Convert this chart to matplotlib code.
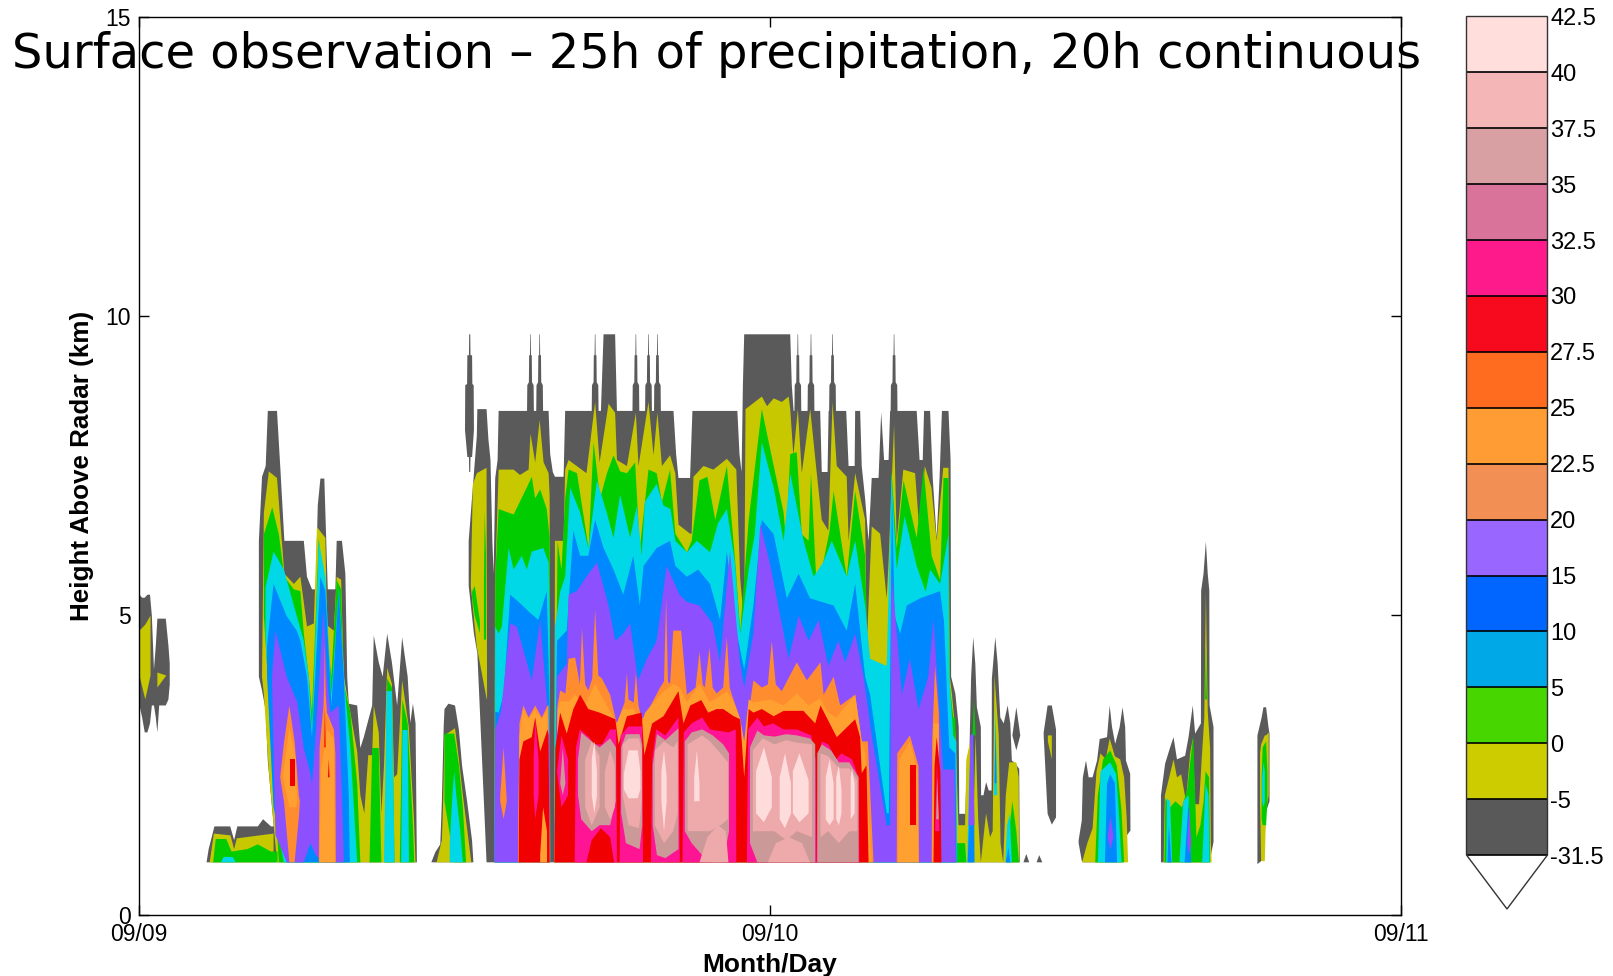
import matplotlib
matplotlib.use("Agg")
import matplotlib.pyplot as plt
from matplotlib.colors import BoundaryNorm, ListedColormap
from matplotlib.cm import ScalarMappable
import numpy as np

plt.rcParams['font.family'] = ['Liberation Sans', 'DejaVu Sans']

# radar echo outlines: (hours since 09/09 00:00, height km)
echo_base = 0.88

# --- gray: lowest reflectivity, the outer envelope
gray_a = [(0,5.35),(.1,5.3),(.2,5.3),(.3,5.35),(.4,5.35),(.47,5.0),(.55,4.1),(.62,4.5),(.68,4.95),(.75,4.95),(1.0,4.95),(1.1,4.5),(1.15,4.2)]
gray_a_under = [(0,3.5),(.1,3.3),(.2,3.05),(.3,3.05),(.4,3.2),(.47,3.5),(.55,3.5),(.62,3.3),(.68,3.05),(.75,3.5),(1.0,3.5),(1.1,3.6),(1.15,3.85)]
gray_low = [(2.55,.88),(2.63,1.1),(2.85,1.48),(3.45,1.48),(3.6,1.25),(3.72,1.48),(4.5,1.48),(4.7,1.6),(5.0,1.48),(5.2,1.48)]
gray_tower = [(4.54,6.25),(4.66,7.32),(4.8,7.5),(4.88,8.42),(5.23,8.42),(5.36,7.44),(5.51,6.25),(6.25,6.25),(6.37,5.65),(6.56,5.44),(6.7,5.44),(6.78,6.84),(6.88,7.29),(7.03,7.29),(7.16,5.44),(7.45,5.44),(7.5,6.25),(7.7,6.25),(7.83,5.7),(7.9,3.98),(7.96,3.53),(8.28,3.5),(8.4,2.79),(8.53,2.97),(8.85,3.5),(8.91,4.67),(9.1,4.22),(9.25,3.98),(9.42,4.7),(9.6,4.22),(9.8,3.5),(9.99,4.64),(10.2,3.98),(10.3,3.21),(10.4,3.53),(10.5,3.2),(10.55,.88)]
gray_tower_under = [(4.54,3.98),(4.79,3.5),(4.85,3.0),(4.92,2.0),(5.13,1.48),(5.2,.88),(10.6,.88)]
gray_c = [(11.1,.88),(11.25,1.05),(11.44,1.18),(11.5,1.9),(11.57,3.15),(11.6,3.44),(11.75,3.53),(12.0,3.5),(12.15,3.09),(12.27,2.49),(12.46,1.9),(12.65,1.24),(12.7,.88)]
gray_spike = [(12.38,8.1),(12.39,8.85),(12.46,8.87),(12.47,9.35),(12.53,9.35),(12.54,9.7),(12.58,9.7),(12.59,9.35),(12.65,9.35),(12.66,8.87),(12.71,8.85),(12.72,8.1)]
gray_spike_under = [(12.38,8.1),(12.47,7.65),(12.53,7.65),(12.54,7.4),(12.58,7.4),(12.59,7.65),(12.65,7.65),(12.72,8.1)]
gray_main = [(12.52,6.25),(12.72,7.38),(12.83,8.0),(12.85,8.45),(13.2,8.45),(13.27,7.95),(13.35,7.6),(13.42,6.25),(13.47,5.7),(13.53,7.3),(13.62,7.6),(13.66,8.42),
             (15.56,8.42),(15.62,7.7),(15.72,7.4),(15.8,7.32),(16.13,7.32),(16.19,8.42),
             (17.55,8.42),(17.65,9.7),(18.09,9.7),(18.16,8.42),
             (20.31,8.42),(20.41,7.7),(20.5,7.3),(20.94,7.3),(21.03,8.42),(22.74,8.42),(22.82,7.7),(22.9,7.4),(22.95,8.85),(23.0,9.7),(24.75,9.7),(24.81,8.85),(24.88,8.42),
             (25.89,8.42),(25.95,7.4),(26.17,7.4),(26.21,8.42),(26.88,8.42),(26.97,7.5),(27.2,7.5),(27.22,8.42),(27.41,8.42),(27.47,7.5),(27.6,6.95),(27.73,6.25),(27.85,7.3),
             (28.11,7.3),(28.21,8.4),(28.32,7.6),(28.49,7.6),(28.55,8.42),(29.56,8.42),(29.67,7.6),(29.79,7.6),(29.84,8.42),(30.07,8.42),(30.17,7.3),(30.32,6.3),(30.43,7.3),(30.52,8.42),(30.77,8.42),(30.85,7.6),
             (30.87,3.98),(31.03,3.7),(31.16,3.14),(31.18,1.69),(31.41,1.69),(31.47,2.58),(31.57,2.8),(31.63,3.97),(31.71,4.64),(31.79,4.2),(31.85,3.47),(32.0,3.14),(32.01,2.0),(32.1,2.0),(32.2,2.22),(32.3,2.08),(32.41,2.08),(32.42,3.95),(32.55,4.64),(32.64,4.2),(32.74,3.3),(32.87,3.2),(33.02,3.5),(33.12,3.2),(33.18,2.58),(33.31,2.53),(33.46,2.44),(33.48,.88)]
gray_main_under = [(12.52,5.5),(12.58,5.05),(12.72,4.7),(12.9,4.25),(13.03,3.74),(13.1,3.6),(13.12,.88),(33.5,.88)]
# the narrow 9.7 km needles above the flat 8.4 km echo top
spire_centres = [14.87, 15.22, 17.33, 18.88, 19.36, 19.7, 25.04, 25.54, 26.36, 28.7]
spire_offsets = [-.13, -.12, -.06, -.05, -.02, -.01, .01, .02, .05, .06, .12, .13]
spire_tops = [8.42, 8.85, 8.9, 9.35, 9.35, 9.7, 9.7, 9.35, 9.35, 8.9, 8.85, 8.42]
gray_blob = [(33.2,3.0),(33.35,3.47),(33.5,3.0)]
gray_blob_under = [(33.2,3.0),(33.35,2.75),(33.5,3.0)]
gray_dot1 = [(33.62,.88),(33.73,1.02),(33.84,.88)]
gray_dot2 = [(34.12,.88),(34.22,1.0),(34.34,.88)]
gray_d = [(34.39,3.05),(34.54,3.5),(34.7,3.5),(34.86,3.1)]
gray_d_under = [(34.39,3.0),(34.54,1.69),(34.7,1.51),(34.86,1.63)]
gray_e = [(35.72,1.25),(35.84,1.58),(35.88,2.3),(36.0,2.58),(36.1,2.3),(36.25,2.3),(36.42,2.58),(36.52,2.94),(36.8,2.97),(36.9,3.5),(36.99,3.14),(37.11,2.86),(37.28,3.14),(37.39,3.47),(37.49,3.14),(37.52,2.58),(37.68,2.36),(37.69,1.41)]
gray_e_under = [(35.72,1.2),(35.85,.88),(37.48,.88),(37.5,1.3),(37.69,1.41)]
gray_f = [(38.85,2.0),(39.01,2.53),(39.2,2.8),(39.33,2.97),(39.46,2.6),(39.77,2.66),(39.9,2.97),(40.06,3.5),(40.15,3.03),(40.37,3.2),(40.38,5.42),(40.47,5.7),(40.56,6.24),(40.63,5.7),(40.69,5.42),(40.7,3.5),(40.85,3.14)]
gray_f_under = [(38.85,.88),(40.7,.88),(40.75,1.05),(40.85,1.22)]
gray_g = [(42.52,3.0),(42.68,3.3),(42.75,3.47),(42.85,3.47),(42.94,3.14),(42.98,3.03)]
gray_g_under = [(42.52,.85),(42.8,.95),(42.84,1.72),(42.98,1.9)]

# --- olive
olive_a = [(0,4.75),(.22,4.85),(.42,5.0)]
olive_a_under = [(0,4.0),(.22,3.6),(.42,4.0)]
olive_a2 = [(.68,4.05),(1.02,4.0)]
olive_a2_under = [(.68,3.8),(1.02,4.0)]
olive_low = [(2.67,.88),(2.83,1.36),(3.46,1.33),(3.6,1.1),(3.7,1.28),(5.1,1.36)]
olive_tower = [(4.66,3.98),(4.73,6.72),(4.92,7.41),(5.23,7.3),(5.51,5.7),(5.87,5.53),(6.12,5.65),(6.37,4.82),(6.63,4.87),(6.75,6.48),(7.07,6.3),(7.13,4.84),(7.39,4.75),(7.5,5.65),(7.67,5.6),(7.77,3.98),(8.02,3.38),(8.28,2.73),(8.4,2.0),(8.55,1.7),(8.7,2.67),(8.85,2.67),(8.91,3.5),(9.1,3.05),(9.2,1.7),(9.3,2.5),(9.42,4.13),(9.6,3.86),(9.68,2.3),(9.8,2.35),(9.99,3.92),(10.24,3.15),(10.44,1.6),(10.5,.88)]
olive_tower_under = [(4.66,3.98),(4.8,3.4),(4.92,2.4),(5.1,1.5),(5.15,.88),(10.6,.88)]
olive_c = [(11.3,.88),(11.5,1.25),(11.55,1.9),(11.6,3.0),(12.0,3.12),(12.15,2.6),(12.3,2.0),(12.5,1.3),(12.62,.88)]
olive_left = [(12.6,5.5),(12.68,7.2),(12.83,7.38),(13.2,7.47),(13.22,3.6)]
olive_left_under = [(12.6,5.5),(12.75,4.8),(12.95,4.0),(13.1,3.7),(13.22,3.6)]
olive_main = [(13.5,.88),(13.52,5.5),(13.66,7.44),(14.23,7.44),(14.47,7.35),(14.8,7.44),(14.87,8.04),(15.05,7.56),(15.22,8.27),(15.37,7.56),(15.56,7.38),(15.6,7.0),(15.62,.88),(15.78,.88),(15.8,6.25),(16.13,6.25),(16.19,7.44),(16.32,7.6),(17.0,7.38),(17.33,8.57),(17.5,7.56),(17.84,8.54),(18.09,8.39),(18.16,7.6),(18.54,7.5),(18.88,8.39),(18.98,7.5),(19.36,8.57),(19.55,7.68),(19.7,8.39),(19.87,7.5),(20.18,7.68),(20.38,7.38),(20.5,6.52),(20.94,6.37),(21.0,6.37),(21.07,7.32),(21.45,7.5),(21.83,7.44),(22.34,7.62),(22.7,7.44),(22.85,5.6),(23.0,4.9),(23.05,8.45),(23.67,8.66),(23.87,8.5),(24.12,8.63),(24.43,8.57),(24.69,8.66),(24.75,8.45),(24.87,7.68),(25.04,8.45),(25.19,7.38),(25.51,8.45),(25.76,7.38),(25.95,6.6),(26.2,6.42),(26.36,8.57),(26.52,7.5),(26.9,7.32),(26.97,6.25),(27.22,7.38),(27.6,6.6),(27.66,4.46),(27.85,6.49),(28.17,6.37),(28.42,5.29),(28.49,5.89),(28.7,8.2),(28.8,6.25),(29.05,7.44),(29.5,7.38),(29.67,6.37),(29.87,7.5),(30.12,7.14),(30.32,6.25),(30.57,7.47),(30.77,7.47),(30.82,3.98),(30.9,3.7),(31.03,3.05),(31.15,1.5),(31.4,1.5),(31.45,2.6),(31.57,2.85),(31.65,2.85),(31.72,1.5),(31.8,3.0),(31.9,1.6),(32.0,.88),(32.1,1.3),(32.2,1.7),(32.35,1.3),(32.45,1.4),(32.52,4.0),(32.6,3.5),(32.68,3.0),(32.75,1.2),(32.85,.88),(32.95,2.0),(33.08,2.55),(33.35,2.55),(33.44,2.3),(33.46,.88)]
olive_d = [(34.55,3.0),(34.7,3.0)]
olive_d_under = [(34.55,2.9),(34.7,2.6)]
olive_e = [(35.85,.88),(36.05,1.2),(36.25,1.45),(36.4,2.4),(36.55,2.7),(36.75,2.6),(36.9,2.95),(37.1,2.65),(37.3,2.6),(37.45,2.3),(37.55,1.6),(37.6,.88)]
olive_f = [(38.95,.88),(39.0,2.0),(39.33,2.6),(39.46,2.3),(39.62,2.35),(39.8,1.9),(39.96,2.7),(40.06,2.95),(40.15,1.85),(40.3,1.85),(40.4,2.6),(40.5,3.3),(40.56,5.4),(40.63,3.4),(40.72,2.8),(40.75,1.2),(40.78,.88)]
olive_g = [(42.62,2.7),(42.66,2.85),(42.8,3.0),(42.85,3.0),(42.95,3.05)]
olive_g_under = [(42.62,1.9),(42.66,.9),(42.8,.9),(42.85,1.75),(42.95,2.0)]

# --- green
green_low = [(2.8,.88),(2.9,1.27),(3.3,1.27),(3.5,1.06),(4.1,1.1),(4.5,1.18),(5.0,1.06),(5.25,1.06)]
green_tower = [(4.73,6.36),(5.05,6.81),(5.3,6.36),(5.51,5.65),(5.87,5.44),(6.12,5.41),(6.25,4.7),(6.44,3.98),(6.56,3.38),(6.82,6.3),(7.07,4.87),(7.3,3.98),(7.5,5.6),(7.67,5.44),(7.77,3.86),(8.02,3.38),(8.28,2.2),(8.4,.88),(8.75,.88),(8.85,2.79),(9.1,2.79),(9.2,.88),(9.35,.88),(9.42,3.95),(9.6,3.8),(9.7,.88),(9.9,.88),(10.0,3.6),(10.2,3.2),(10.4,1.5),(10.45,.88)]
green_tower_under = [(4.73,5.0),(4.85,4.3),(5.0,3.5),(5.1,2.0),(5.2,.88),(10.5,.88)]
green_c = [(11.6,3.03),(11.97,3.03),(12.15,2.5),(12.3,1.8),(12.42,.88)]
green_c_under = [(11.6,1.9),(11.85,.88),(12.42,.88)]
green_left = [(12.65,5.4),(12.75,5.5),(12.95,4.9)]
green_left_under = [(12.65,5.3),(12.75,5.0),(12.95,4.7)]
green_left2 = [(13.1,5.5),(13.13,6.75),(13.18,6.0)]
green_left2_under = [(13.1,4.6),(13.18,4.6)]
green_main = [(13.5,.88),(13.53,5.65),(13.66,6.78),(14.23,6.69),(14.73,7.14),(14.92,7.32),(15.05,6.96),(15.24,7.11),(15.49,6.78),(15.6,6.3),(15.62,.88),(15.78,.88),(15.9,6.25),(16.05,5.77),(16.19,6.96),(16.32,7.44),(16.64,7.38),(17.08,6.13),(17.27,7.9),(17.52,6.96),(17.78,7.38),(18.03,7.68),(18.28,7.41),(18.54,7.38),(18.85,7.56),(19.03,6.13),(19.36,7.44),(19.67,7.38),(19.87,6.9),(20.18,7.44),(20.38,6.37),(20.55,6.25),(20.82,6.06),(21.0,6.25),(21.3,7.26),(21.6,7.32),(21.9,6.6),(22.34,7.5),(22.65,5.95),(22.85,4.75),(23.17,6.6),(23.67,8.45),(24.18,7.38),(24.5,6.72),(24.59,6.25),(24.75,7.7),(25.0,7.73),(25.19,6.36),(25.45,6.25),(25.54,7.38),(25.74,5.6),(25.95,5.77),(26.25,6.42),(26.4,7.08),(26.9,5.65),(27.22,7.08),(27.6,6.0),(27.69,4.28),(27.85,4.15),(28.42,4.15),(28.51,4.5),(28.6,7.44),(28.8,6.12),(29.06,7.26),(29.56,6.3),(29.82,7.47),(30.13,6.0),(30.45,5.6),(30.58,7.3),(30.77,7.3),(30.81,3.9),(30.95,3.3),(31.03,3.3),(31.07,1.2),(31.4,1.2),(31.45,.88)]
green_e = [(36.35,.88),(36.45,2.0),(36.65,2.6),(36.92,2.75),(37.17,2.5),(37.35,1.75),(37.45,.88)]
green_f = [(38.98,.88),(39.02,1.95),(39.2,1.8),(39.4,1.9),(39.65,1.8),(39.85,2.1),(40.0,2.7),(40.08,3.0),(40.2,1.3),(40.35,1.5),(40.47,1.9),(40.55,2.4),(40.68,2.3),(40.72,.88)]
green_spire = [(40.53,3.6),(40.56,4.5),(40.6,3.6)]
green_g = [(42.68,2.3),(42.72,2.8),(42.85,2.9),(42.9,2.4)]
green_g_under = [(42.68,1.6),(42.72,1.5),(42.85,1.5),(42.9,1.9)]
green_tail1 = [(31.68,3.0),(31.74,3.6),(31.8,3.0)]
green_tail2 = [(33.0,.88),(33.1,1.5),(33.2,1.9),(33.35,1.4),(33.45,.88)]

# --- cyan
cyan_low = [(3.1,.88),(3.2,.97),(3.55,.97),(3.65,.88)]
cyan_tower = [(4.79,5.47),(5.1,6.07),(5.49,5.77),(5.87,5.17),(6.25,4.58),(6.44,3.98),(6.56,3.09),(6.82,6.25),(7.07,5.65),(7.3,3.68),(7.58,5.47),(7.7,4.58),(7.83,3.68),(8.02,2.79),(8.28,.88)]
cyan_tower_under = [(4.79,4.7),(4.9,3.8),(5.0,3.0),(5.1,1.8),(5.2,.88),(8.3,.88)]
cyan_t2 = [(9.3,.88),(9.4,3.74),(9.6,3.74),(9.7,.88)]
cyan_t3 = [(9.95,.88),(10.0,3.09),(10.2,3.09),(10.25,.88)]
cyan_c = [(11.8,1.2),(11.9,2.0),(11.97,2.4),(12.05,2.0),(12.2,1.4),(12.3,.88)]
cyan_main = [(13.5,.88),(13.53,4.82),(13.66,4.7),(13.78,4.82),(14.04,6.13),(14.23,5.77),(14.54,6.0),(14.73,5.77),(14.92,6.07),(15.36,6.13),(15.56,5.89),(15.6,5.0),(15.62,.88),(15.78,.88),(15.8,4.8),(16.0,5.4),(16.19,5.65),(16.38,7.14),(16.76,6.72),(17.07,6.13),(17.4,7.26),(17.77,6.72),(18.03,6.3),(18.28,7.02),(18.66,6.3),(18.92,6.84),(19.1,6.0),(19.22,6.9),(19.67,7.2),(19.93,6.84),(20.2,6.78),(20.38,6.25),(20.82,6.06),(21.2,6.25),(21.7,6.06),(22.0,6.54),(22.34,6.78),(22.65,5.89),(22.85,4.7),(23.17,5.77),(23.4,6.36),(23.67,7.9),(24.12,7.14),(24.5,6.25),(24.75,7.38),(25.26,6.25),(25.64,5.65),(26.0,5.89),(26.33,6.25),(26.9,5.65),(27.22,6.25),(27.6,5.17),(27.79,4.28),(28.42,4.16),(28.6,7.38),(28.8,5.77),(29.1,6.66),(29.56,5.83),(29.9,5.4),(30.07,5.77),(30.45,5.53),(30.77,6.36),(30.8,4.0),(30.95,3.0),(31.07,2.9),(31.1,.88)]
cyan_e = [(36.45,.88),(36.55,2.4),(36.92,2.55),(37.15,2.35),(37.25,1.7),(37.35,.88)]
cyan_f1 = [(39.05,.88),(39.08,1.95),(39.2,1.9),(39.28,.88)]
cyan_f2 = [(39.55,.88),(39.7,1.9),(39.9,2.0),(40.0,.88)]
cyan_f3 = [(40.42,.88),(40.55,2.2),(40.66,2.0),(40.7,.88)]
cyan_g = [(42.7,2.3),(42.75,2.55),(42.8,2.4)]
cyan_g_under = [(42.7,1.9),(42.75,1.8),(42.8,1.9)]
cyan_tail1 = [(31.48,.88),(31.55,2.2),(31.65,3.03),(31.72,.88)]
cyan_tail2 = [(32.5,2.0),(32.56,3.5),(32.62,2.0)]
cyan_tail3 = [(32.93,.88),(33.0,1.5),(33.1,1.69),(33.18,.88)]

# --- blue
blue_tower = [(4.85,4.5),(5.1,5.53),(5.6,4.99),(5.98,4.75),(6.12,4.58),(6.37,3.98),(6.56,2.97),(6.88,5.65),(7.07,5.41),(7.3,3.5),(7.58,5.41),(7.77,3.98),(7.96,2.0),(8.0,.88)]
blue_tower_under = [(4.85,4.0),(5.0,3.0),(5.1,1.8),(5.2,.88),(8.0,.88)]
blue_main = [(13.5,.88),(13.53,3.4),(13.66,3.38),(13.85,3.68),(14.1,5.35),(14.42,5.23),(14.85,5.05),(15.17,4.93),(15.49,5.41),(15.6,3.5),(15.62,.88),(15.78,.88),(15.88,4.58),(16.25,4.75),(16.5,6.42),(16.76,6.0),(17.07,6.0),(17.33,6.6),(17.65,6.13),(18.03,5.77),(18.4,5.35),(18.78,6.0),(19.03,5.17),(19.17,5.83),(19.67,6.13),(20.18,6.25),(20.38,5.83),(20.82,5.65),(21.25,5.77),(21.7,5.53),(22.08,4.93),(22.34,6.07),(22.7,4.75),(23.0,4.1),(23.35,5.17),(23.67,6.6),(24.12,6.36),(24.62,5.29),(25.07,5.7),(25.5,5.29),(25.95,5.23),(26.4,5.17),(26.9,4.75),(27.22,5.53),(27.6,3.98),(27.79,3.68),(28.42,1.7),(28.5,1.7),(28.62,7.08),(28.72,5.0),(28.93,4.7),(29.18,5.17),(29.69,5.29),(30.45,5.41),(30.6,4.9),(30.77,3.1),(30.8,2.8),(31.03,2.7),(31.08,.88)]
blue_e = [(36.72,.88),(36.8,2.2),(36.92,2.35),(37.1,2.2),(37.18,.88)]
blue_f1 = [(39.1,.88),(39.15,1.5),(39.25,.88)]
blue_f2 = [(39.75,.88),(39.9,1.9),(40.0,.88)]
blue_tail1 = [(31.5,.88),(31.55,1.5),(31.68,1.5),(31.72,3.2),(31.76,.88)]
blue_tail2 = [(32.52,2.2),(32.56,3.2),(32.6,2.2)]
blue_tail3 = [(32.95,.88),(33.05,1.13),(33.12,.88)]

# --- purple
purple_tower = [(5.04,3.98),(5.17,4.75),(5.6,3.98),(6.0,3.56),(6.25,2.79),(6.5,2.37),(6.56,2.19),(6.7,3.0),(7.0,5.1),(7.13,3.98),(7.26,3.38),(7.58,3.5),(7.71,1.9),(7.77,.88)]
purple_tower_under = [(5.04,3.9),(5.1,2.4),(5.2,.88),(6.3,.88),(6.5,1.2),(6.7,1.0),(6.8,.88),(7.8,.88)]
purple_main = [(13.5,.88),(13.53,3.1),(13.75,3.4),(14.1,4.87),(14.35,4.82),(14.92,3.92),(15.24,4.93),(15.52,3.44),(15.6,3.0),(15.62,.88),(15.78,.88),(15.88,3.98),(16.25,4.2),(16.32,5.35),(16.63,5.41),(17.0,5.65),(17.4,5.89),(17.84,5.17),(18.1,4.58),(18.4,4.7),(18.66,4.87),(18.96,3.92),(19.3,4.28),(19.67,4.58),(20.05,5.83),(20.54,5.35),(20.82,5.23),(21.3,5.17),(21.8,4.87),(22.08,4.22),(22.46,6.07),(22.84,4.22),(23.0,3.8),(23.35,4.7),(23.61,6.54),(24.0,5.83),(24.69,4.28),(25.07,5.0),(25.45,4.58),(25.83,4.93),(26.2,4.16),(26.58,4.58),(26.84,4.22),(27.22,4.7),(27.54,3.98),(27.85,3.0),(28.42,1.5),(28.55,1.5),(28.6,5.77),(29.0,3.68),(29.3,4.28),(29.63,3.44),(30.0,3.98),(30.2,4.95),(30.57,2.43),(31.0,2.43),(31.05,.88)]
purple_e = [(36.82,1.3),(36.93,1.66),(37.05,1.3)]
purple_e_under = [(36.82,1.3),(36.93,1.1),(37.05,1.3)]
purple_f = [(39.85,1.2),(39.92,1.8),(40.0,1.2)]
purple_f_under = [(39.85,1.2),(39.92,1.0),(40.0,1.2)]
purple_tail = [(31.53,1.5),(31.6,3.0),(31.7,3.03),(31.76,1.5)]

# --- orange, salmon tone
orange_t1 = [(5.35,2.3),(5.5,2.9),(5.7,3.5),(5.9,2.9),(6.06,2.0),(6.1,1.9)]
orange_t1_under = [(5.35,2.3),(5.6,1.6),(5.65,.88),(5.95,.88),(6.1,1.9)]
orange_t2 = [(6.82,.88),(6.85,2.8),(7.0,3.5),(7.03,4.0),(7.05,4.55),(7.08,3.7),(7.13,3.38),(7.39,3.1),(7.45,2.7),(7.47,.88)]
orange_a = [(13.72,2.0),(13.85,2.8),(13.97,1.9)]
orange_a_under = [(13.72,1.9),(13.85,1.6),(13.97,1.9)]
orange_main = [(14.4,.88),(14.45,3.2),(14.6,3.5),(14.8,3.3),(15.05,3.5),(15.3,3.3),(15.52,3.5),(15.56,3.5),(15.6,.88),(15.78,.88),(15.9,3.5),(16.0,3.75),(16.2,3.7),(16.32,4.28),(16.57,4.3),(16.75,3.85),(16.83,4.8),(16.95,3.85),(17.07,3.75),(17.22,3.95),(17.33,5.1),(17.45,4.0),(17.59,3.95),(17.9,3.68),(18.15,3.2),(18.45,3.55),(18.54,4.04),(18.6,3.6),(18.8,3.55),(18.88,4.04),(18.98,3.5),(19.1,3.27),(19.3,3.38),(19.8,3.8),(19.95,3.9),(20.03,5.3),(20.1,3.9),(20.18,3.86),(20.3,4.75),(20.6,4.75),(20.82,3.68),(21.15,3.8),(21.3,4.4),(21.42,3.85),(21.5,3.8),(21.68,4.46),(21.8,3.8),(21.95,3.7),(22.2,3.8),(22.34,4.64),(22.45,3.8),(22.53,3.68),(22.85,3.27),(23.0,2.35),(23.17,3.38),(23.35,3.92),(23.67,3.8),(23.9,3.85),(24.05,4.58),(24.2,3.85),(24.43,3.74),(25.0,4.22),(25.38,3.92),(25.9,4.22),(26.02,3.68),(26.4,3.98),(26.65,3.5),(27.22,3.68),(27.47,2.9),(27.7,2.9),(27.92,.88)]
orange_h = [(28.8,.88),(28.82,2.7),(29.3,3.0),(29.63,2.49),(29.65,.88)]
orange_i = [(30.13,.88),(30.15,2.9),(30.26,4.16),(30.4,3.38),(30.45,.88)]

# --- orange, bright tone
amber_t1 = [(5.45,2.3),(5.7,3.15),(5.95,2.6),(6.0,1.9)]
amber_t1_under = [(5.45,2.3),(5.65,1.8),(5.95,1.8),(6.0,1.9)]
amber_t2 = [(6.85,.88),(6.9,2.4),(7.13,3.1),(7.39,2.95),(7.43,.88)]
amber_main = [(14.4,.88),(14.45,3.0),(14.6,3.44),(14.8,3.27),(15.05,3.44),(15.3,3.27),(15.52,3.44),(15.6,.88),(15.78,.88),(15.9,3.44),(16.0,3.57),(16.32,3.56),(16.57,3.68),(16.93,3.5),(17.33,3.86),(17.65,3.6),(18.15,3.2),(18.4,3.44),(18.78,3.44),(19.1,3.2),(19.23,3.38),(19.8,3.68),(20.3,3.86),(20.55,3.8),(20.82,3.56),(21.3,3.86),(21.68,3.56),(21.95,3.62),(22.34,3.74),(22.6,3.56),(22.85,3.27),(23.0,2.9),(23.17,3.6),(23.35,3.55),(24.0,3.6),(24.5,3.5),(25.0,3.7),(25.45,3.5),(25.9,3.62),(26.15,3.4),(26.5,3.3),(27.22,3.68),(27.47,2.9),(27.6,2.7),(27.85,.88)]
amber_h = [(28.85,.88),(28.9,2.6),(29.3,2.9),(29.6,2.4),(29.62,.88)]
amber_i = [(30.15,.88),(30.2,3.2),(30.4,3.2),(30.43,.88)]

# --- red
red_t1 = [(5.75,2.6),(5.95,2.6)]
red_t1_under = [(5.75,2.15),(5.95,2.15)]
red_t2 = [(7.03,2.8),(7.05,3.5),(7.08,2.8)]
red_t3 = [(7.17,2.3),(7.2,2.6),(7.23,2.3)]
red_main = [(14.42,.88),(14.45,2.6),(14.6,2.9),(14.92,2.97),(15.05,3.3),(15.24,2.73),(15.52,3.1),(15.56,3.0),(15.6,.88),(15.78,.88),(15.82,2.79),(16.0,3.38),(16.25,3.03),(16.5,3.44),(16.76,3.68),(17.07,3.44),(17.5,3.38),(18.1,3.27),(18.22,2.85),(18.54,3.32),(19.1,3.38),(19.2,2.67),(19.5,3.2),(19.93,3.32),(20.5,3.74),(20.69,3.2),(20.95,3.5),(21.37,3.59),(21.63,3.38),(21.95,3.44),(22.2,3.44),(22.6,3.32),(22.85,3.27),(23.0,2.3),(23.17,3.44),(23.35,3.38),(23.67,3.44),(24.12,3.32),(24.5,3.41),(25.25,3.41),(25.7,3.2),(25.9,3.5),(26.52,2.97),(27.22,3.27),(27.41,2.97),(27.47,2.37),(27.65,2.5),(27.73,.88)]
red_h = [(29.31,2.5),(29.56,2.5)]
red_h_under = [(29.31,1.5),(29.56,1.5)]
red_i = [(30.2,.88),(30.24,2.5),(30.32,2.97),(30.46,2.4),(30.5,.88)]
amber_patch = [(15.24,1.0),(15.35,1.8),(15.5,1.4)]
amber_patch_under = [(15.24,.88),(15.5,.88)]

# --- pink
pink_a = [(14.99,2.6),(15.05,3.27),(15.18,2.6)]
pink_a_under = [(14.99,2.0),(15.05,1.6),(15.18,2.0)]
pink_b = [(15.88,2.4),(16.05,3.0),(16.3,2.6)]
pink_b_under = [(15.88,2.4),(16.05,1.8),(16.3,2.0)]
pink_c = [(16.55,.88),(16.6,2.8),(16.75,3.1),(17.1,2.97),(17.3,2.85),(17.6,2.85),(17.9,3.1),(18.13,3.1),(18.16,.88)]
pink_d = [(18.26,.88),(18.3,3.0),(18.6,3.15),(19.12,3.15),(19.15,.88)]
pink_e = [(19.45,.88),(19.5,2.6),(19.65,3.1),(20.0,3.0),(20.5,3.3),(20.55,.88)]
pink_f = [(20.65,.88),(20.7,3.05),(21.0,3.2),(21.4,3.3),(21.7,3.1),(22.4,3.05),(22.68,3.1),(22.7,.88)]
pink_g1 = [(23.1,.88),(23.15,3.1),(23.5,3.3),(23.75,3.15),(24.1,3.2),(24.5,3.1),(25.0,3.1),(25.55,3.0),(25.72,2.6),(25.74,.88)]
pink_g2 = [(25.75,.88),(25.8,2.6),(25.95,2.9),(26.2,2.85),(26.5,2.6),(26.7,2.7),(27.1,2.6),(27.35,2.3),(27.38,.88)]
pink_i = [(30.26,1.4),(30.33,2.6),(30.42,1.4)]
red_c_patch = [(17.0,.88),(17.2,1.25),(17.55,1.45),(17.9,1.3),(18.05,.88)]

# --- rosy
rosy_b = [(16.0,2.2),(16.1,2.8),(16.2,2.2)]
rosy_b_under = [(16.0,2.2),(16.1,2.0),(16.2,2.2)]
rosy_c = [(16.68,2.6),(16.8,3.05),(17.2,2.9),(17.5,2.8),(17.9,2.95),(18.12,2.8)]
rosy_c_under = [(16.68,2.0),(16.8,1.6),(17.2,1.4),(17.5,1.5),(17.9,1.5),(18.12,1.9)]
rosy_d = [(18.32,2.8),(18.5,3.02),(19.02,3.02),(19.12,2.85)]
rosy_d_under = [(18.32,1.7),(18.5,1.2),(19.02,1.1),(19.12,1.5)]
rosy_e = [(19.52,2.5),(19.68,3.02),(20.0,2.92),(20.5,3.12)]
rosy_e_under = [(19.52,1.5),(19.68,1.0),(20.0,.95),(20.5,1.1)]
rosy_f = [(20.74,2.9),(21.0,3.05),(21.4,3.1),(21.8,3.0),(22.2,2.85),(22.42,2.7)]
rosy_f_under = [(20.74,1.4),(21.0,1.2),(21.4,1.0),(21.8,.88),(22.2,.88),(22.42,1.4)]
rosy_g1 = [(23.22,2.8),(23.5,3.08),(23.75,3.0),(24.15,2.98),(24.6,3.02),(25.0,3.0),(25.5,2.95),(25.7,2.85)]
rosy_g1_under = [(23.22,1.2),(23.45,.88),(25.7,.88)]
rosy_g2 = [(25.78,2.7),(25.95,2.85),(26.3,2.75),(26.6,2.55),(27.0,2.55),(27.35,2.3)]
rosy_i = [(30.3,1.6),(30.34,2.3),(30.4,1.6)]

# --- light pink
light_c = [(16.95,2.6),(17.2,2.9),(17.5,2.65)]
light_c_under = [(16.95,1.8),(17.2,1.5),(17.5,1.8)]
light_c2 = [(17.7,2.4),(17.9,2.75),(18.08,2.5)]
light_c2_under = [(17.7,1.8),(17.9,1.6),(18.08,1.8)]
light_d = [(18.38,2.85),(18.6,2.95),(19.0,2.95),(19.1,2.75)]
light_d_under = [(18.38,2.0),(18.6,1.5),(19.0,1.45),(19.1,1.9)]
light_e = [(19.6,2.75),(19.95,2.9),(20.3,2.8),(20.47,2.9)]
light_e_under = [(19.6,1.5),(19.95,1.2),(20.3,1.4),(20.47,1.7)]
light_f = [(20.85,2.85),(21.4,3.0),(21.7,2.9),(22.1,2.7),(22.38,2.55)]
light_f_under = [(20.85,1.4),(21.4,1.4),(21.7,1.4),(22.1,1.5),(22.38,1.6)]
light_f2 = [(21.3,.88),(21.6,1.3),(22.0,1.5),(22.3,1.4),(22.4,.88)]
light_g1 = [(23.33,2.75),(23.7,2.95),(24.15,2.85),(24.6,2.92),(25.0,2.88),(25.58,2.85)]
light_g1_under = [(23.33,1.4),(23.7,1.4),(24.15,1.4),(24.6,1.25),(25.0,1.4),(25.58,1.3)]
light_g1b = [(23.9,.88),(24.2,1.2),(24.7,1.3),(25.2,1.2),(25.5,.88)]
light_g2 = [(25.9,2.7),(26.2,2.65),(26.6,2.45),(27.0,2.45),(27.3,2.25)]
light_g2_under = [(25.9,1.3),(26.2,1.4),(26.6,1.2),(27.0,1.4),(27.3,1.4)]

# --- palest
pale_c = [(17.2,2.6),(17.3,2.9),(17.4,2.4)]
pale_c_under = [(17.2,2.0),(17.3,1.7),(17.4,2.0)]
pale_d = [(18.42,2.35),(18.6,2.75),(18.95,2.75),(19.05,2.4)]
pale_d_under = [(18.42,2.1),(18.6,1.95),(18.95,1.95),(19.05,2.1)]
pale_e = [(19.85,2.4),(19.95,2.75),(20.05,2.3)]
pale_e_under = [(19.85,1.9),(19.95,1.4),(20.05,1.9)]
pale_f = [(21.1,2.3),(21.2,2.75),(21.3,2.2)]
pale_f_under = [(21.1,1.9),(21.3,1.9)]
pale_g1 = [(23.45,2.4),(23.75,2.8),(24.05,2.3)]
pale_g1_under = [(23.45,1.7),(23.75,1.55),(24.05,1.8)]
pale_g2 = [(24.35,2.3),(24.55,2.7),(24.78,2.2)]
pale_g2_under = [(24.35,1.6),(24.55,1.45),(24.78,1.7)]
pale_g3 = [(24.85,2.4),(25.1,2.7),(25.45,2.25)]
pale_g3_under = [(24.85,1.7),(25.1,1.55),(25.45,1.7)]
pale_g4 = [(26.1,2.3),(26.25,2.6),(26.4,2.2)]
pale_g4_under = [(26.1,1.6),(26.25,1.5),(26.4,1.6)]
pale_g5 = [(26.5,2.3),(26.6,2.5),(26.7,2.1)]
pale_g5_under = [(26.5,1.6),(26.6,1.5),(26.7,1.7)]
pale_g6 = [(27.05,2.3),(27.1,2.45),(27.2,2.2)]
pale_g6_under = [(27.05,1.6),(27.2,1.7)]

plot_colors = {'gray': '#5a5a5a', 'olive': '#c8c800', 'green': '#00cc00', 'cyan': '#00d8e8', 'blue': '#0088ff',
               'purple': '#8c50ff', 'orange': '#ff8c2e', 'amber': '#ffa030', 'red': '#f00000', 'pink': '#ff1493',
               'rosy': '#cc9999', 'light': '#eeaaaa', 'pale': '#ffdcdc'}

layers = [
    ('gray', [(gray_a, gray_a_under), (gray_low, None), (gray_tower, gray_tower_under), (gray_c, None), (gray_spike, gray_spike_under),
              (gray_main, gray_main_under), (gray_blob, gray_blob_under), (gray_dot1, None), (gray_dot2, None), (gray_d, gray_d_under),
              (gray_e, gray_e_under), (gray_f, gray_f_under), (gray_g, gray_g_under)]),
    ('olive', [(olive_a, olive_a_under), (olive_a2, olive_a2_under), (olive_low, None), (olive_tower, olive_tower_under), (olive_c, None),
               (olive_left, olive_left_under), (olive_main, None), (olive_d, olive_d_under), (olive_e, None), (olive_f, None), (olive_g, olive_g_under)]),
    ('green', [(green_low, None), (green_tower, green_tower_under), (green_c, green_c_under), (green_left, green_left_under),
               (green_left2, green_left2_under), (green_main, None), (green_e, None), (green_f, None), (green_spire, green_spire),
               (green_g, green_g_under), (green_tail1, green_tail1), (green_tail2, None)]),
    ('cyan', [(cyan_low, None), (cyan_tower, cyan_tower_under), (cyan_t2, None), (cyan_t3, None), (cyan_c, None), (cyan_main, None), (cyan_e, None),
              (cyan_f1, None), (cyan_f2, None), (cyan_f3, None), (cyan_g, cyan_g_under), (cyan_tail1, None), (cyan_tail2, cyan_tail2), (cyan_tail3, None)]),
    ('blue', [(blue_tower, blue_tower_under), (blue_main, None), (blue_e, None), (blue_f1, None), (blue_f2, None), (blue_tail1, None),
              (blue_tail2, blue_tail2), (blue_tail3, None)]),
    ('purple', [(purple_tower, purple_tower_under), (purple_main, None), (purple_e, purple_e_under), (purple_f, purple_f_under), (purple_tail, purple_tail)]),
    ('orange', [(orange_t1, orange_t1_under), (orange_t2, None), (orange_a, orange_a_under), (orange_main, None), (orange_h, None), (orange_i, None)]),
    ('amber', [(amber_t1, amber_t1_under), (amber_t2, None), (amber_main, None), (amber_h, None), (amber_i, None)]),
    ('red', [(red_t1, red_t1_under), (red_t2, red_t2), (red_t3, red_t3), (red_main, None), (red_h, red_h_under), (red_i, None)]),
    ('amber', [(amber_patch, amber_patch_under)]),
    ('pink', [(pink_a, pink_a_under), (pink_b, pink_b_under), (pink_c, None), (pink_d, None), (pink_e, None), (pink_f, None),
              (pink_g1, None), (pink_g2, None), (pink_i, pink_i)]),
    ('red', [(red_c_patch, None)]),
    ('rosy', [(rosy_b, rosy_b_under), (rosy_c, rosy_c_under), (rosy_d, rosy_d_under), (rosy_e, rosy_e_under), (rosy_f, rosy_f_under),
              (rosy_g1, rosy_g1_under), (rosy_g2, None), (rosy_i, rosy_i)]),
    ('light', [(light_c, light_c_under), (light_c2, light_c2_under), (light_d, light_d_under), (light_e, light_e_under), (light_f, light_f_under),
               (light_f2, None), (light_g1, light_g1_under), (light_g1b, None), (light_g2, light_g2_under)]),
    ('pale', [(pale_c, pale_c_under), (pale_d, pale_d_under), (pale_e, pale_e_under), (pale_f, pale_f_under), (pale_g1, pale_g1_under),
              (pale_g2, pale_g2_under), (pale_g3, pale_g3_under), (pale_g4, pale_g4_under), (pale_g5, pale_g5_under), (pale_g6, pale_g6_under)]),
]

# colorbar
bar_bounds = [-31.5, -5, 0, 5, 10, 15, 20, 22.5, 25, 27.5, 30, 32.5, 35, 37.5, 40, 42.5]
bar_labels = ['-31.5', '-5', '0', '5', '10', '15', '20', '22.5', '25', '27.5', '30', '32.5', '35', '37.5', '40', '42.5']
bar_colors = ['#595959', '#cccc00', '#47d600', '#00a8e8', '#0066ff', '#9966ff', '#f28f55', '#ff9c33',
              '#ff6b1f', '#f70a1e', '#ff1a8c', '#d97399', '#d9a0a3', '#f4b6b6', '#ffdedb']

time_ticks = [0, 24, 48]
time_labels = ['09/09', '09/10', '09/11']
height_ticks = [0, 5, 10, 15]
title = 'Surface observation \u2013 25h of precipitation, 20h continuous'

fig = plt.figure(figsize=(16.13, 9.76), dpi=100)
ax = fig.add_axes([139/1613, 1-914.5/976, (1401-139)/1613, (914.5-16.5)/976])

for name, runs in layers:
    for run, under in runs:
        h = np.array([p[0] for p in run])
        top = np.array([p[1] for p in run])
        if under is None:
            low = np.full(len(h), echo_base)
        elif under is run:
            # thin sliver, a spire only a few pixels wide with its own low end
            low = np.full(len(h), min(top))
        else:
            low = np.interp(h, [p[0] for p in under], [p[1] for p in under])
        ax.fill_between(h, low, top, color=plot_colors[name], lw=0, zorder=2)
    if name == 'gray':
        for c in spire_centres:
            ax.fill_between(c + np.array(spire_offsets), 8.0, spire_tops, color=plot_colors['gray'], lw=0, zorder=2)

ax.set_xlim(0, 48)
ax.set_ylim(0, 15)
ax.set_xticks(time_ticks)
ax.set_xticklabels(time_labels)
ax.set_yticks(height_ticks)
ax.tick_params(direction='in', top=True, right=True, length=7, width=1, labelsize=16.5, pad=6)
ax.set_xlabel('Month/Day', fontsize=19, fontweight='bold', labelpad=5)
ax.set_ylabel('Height Above Radar (km)', fontsize=18.7, fontweight='bold', labelpad=8)
for s in ax.spines.values():
    s.set_linewidth(1)
    s.set_zorder(5)

# the axes of a colorbar hold the extend triangle as well
cax = fig.add_axes([1466.5/1613, 1-909/976, 81/1613, (909-16.5)/976])
cmap = ListedColormap(bar_colors)
cmap.set_under('white')
norm = BoundaryNorm(bar_bounds, cmap.N, extend='neither')
cb = fig.colorbar(ScalarMappable(norm=norm, cmap=cmap), cax=cax, extend='min', spacing='uniform',
                  boundaries=[-40] + bar_bounds, values=[-40] + [(a+b)/2 for a, b in zip(bar_bounds[:-1], bar_bounds[1:])],
                  ticks=bar_bounds, extendfrac=54/838.5, drawedges=True)
cb.set_ticklabels(bar_labels)
cb.ax.tick_params(length=0, labelsize=17, pad=2)
cb.dividers.set_color('black')
cb.dividers.set_linewidth(1.2)
cb.outline.set_linewidth(1)
cb.outline.set_edgecolor('#333333')

fig.text(0.4445, 0.9445, title, family='DejaVu Sans', fontsize=34.6, ha='center', va='center', zorder=10)

fig.savefig('out.png', dpi=100)
